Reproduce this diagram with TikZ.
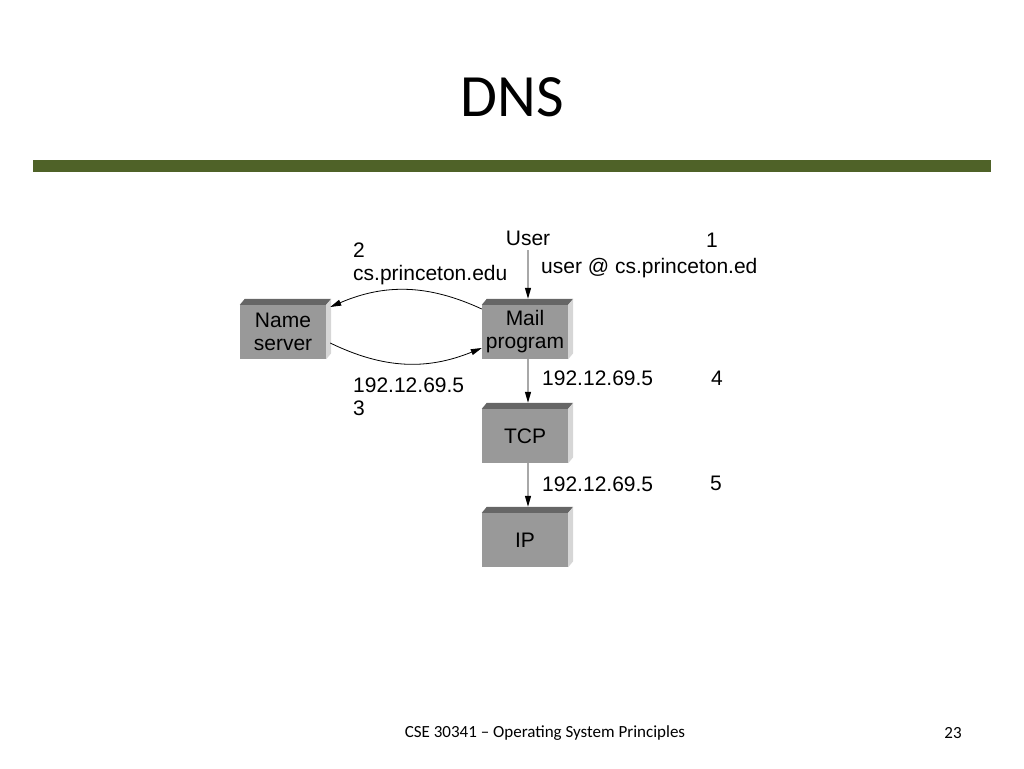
\documentclass[tikz,border=0pt]{standalone}
\usepackage{fontspec}
\setmainfont{Liberation Sans}
\newfontfamily\slidefont[Ligatures=TeX]{Carlito}
\usetikzlibrary{arrows.meta}
\definecolor{barGreen}{HTML}{4F6228}
\definecolor{frontGray}{HTML}{999999}
\definecolor{topGray}{HTML}{666666}
\definecolor{sideGray}{HTML}{D6D6D6}
\definecolor{lineGray}{HTML}{A8A8A8}

\begin{document}
\begin{tikzpicture}[x=1pt,y=-1pt]
\useasboundingbox (0,0) rectangle (1024,768);

% slide frame
\node (title) at (512,97) {\slidefont\fontsize{60}{66}\selectfont DNS};
\fill[barGreen] (33,160) rectangle (991,172);
\node (footer) at (545,733) {\slidefont\fontsize{17}{20}\selectfont CSE 30341 \textendash{} Operating System Principles};
\node (page) at (953,733) {\slidefont\fontsize{17}{20}\selectfont 23};

\begin{scope}[every node/.style={fill=frontGray,minimum width=86pt,minimum height=54pt,
              inner sep=0pt,align=center,font=\fontsize{21}{23}\selectfont}]
    \node (ns) at (283,332) {Name\\server};
    \node (mail) at (525,332) {Mail\\program};
    \node (tcp) at (525,436) {TCP};
    \node (ip) at (525,540) {IP};
\end{scope}

\foreach \n in {ns,mail,tcp,ip} {
    \fill[topGray] (\n.north west) -- ++(5,-6) -- ([shift={(5,-6)}]\n.north east) -- (\n.north east) -- cycle;
    \fill[sideGray] (\n.north east) -- ++(5,-6) -- ([shift={(5,-6)}]\n.south east) -- (\n.south east) -- cycle;
}

\begin{scope}[every node/.style={inner sep=0pt,anchor=base west,font=\fontsize{21}{23}\selectfont}]
    \node[anchor=base] (user) at (528,245) {User};
    \node (num1) at (706,247) {1};
    \node (lbl1) at (541,273) {user @ cs.princeton.ed};
    \node (num2) at (353,257) {2};
    \node (lbl2) at (353,280) {cs.princeton.edu};
    \node (lbl3) at (353,392) {192.12.69.5};
    \node (num3) at (353,415) {3};
    \node (lbl4) at (542,385) {192.12.69.5};
    \node (num4) at (711,385) {4};
    \node (lbl5) at (542,491) {192.12.69.5};
    \node (num5) at (710,490) {5};
\end{scope}

\begin{scope}[>={Triangle[black,length=11pt,width=6pt]}]
    \draw[->,lineGray,line width=1.2pt] ([yshift=-5pt]user.base) -- ([shift={(3,-6)}]mail.north);
    \draw[->,lineGray,line width=1.2pt] ([xshift=3pt]mail.south) -- ([shift={(3,-6)}]tcp.north);
    \draw[->,lineGray,line width=1.2pt] ([xshift=3pt]tcp.south) -- ([shift={(3,-6)}]ip.north);
    \draw[->,black,line width=0.8pt] ([yshift=23pt]mail.west) to[bend right=24] ([shift={(4,-25)}]ns.east);
    \draw[->,black,line width=0.8pt] ([shift={(4,11)}]ns.east) to[bend right=24] ([yshift=-16pt]mail.west);
\end{scope}
\end{tikzpicture}
\end{document}
